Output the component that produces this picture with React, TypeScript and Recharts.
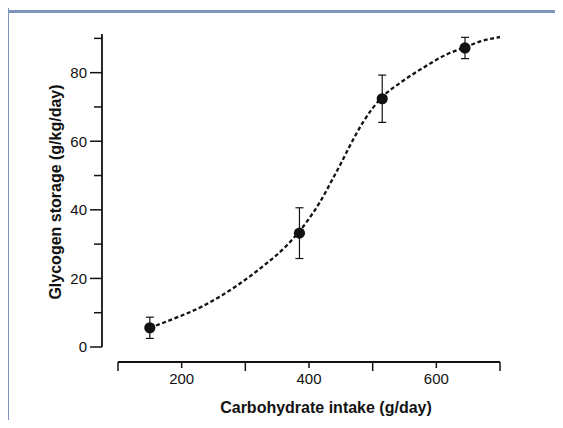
import React from 'react';
import { ComposedChart, Line, Scatter, ErrorBar, XAxis, YAxis, Label } from 'recharts';

// measured points (mean +/- SD)
const intake = [150, 385, 515, 645];
const storage = [5.6, 33.2, 72.4, 87.2];
const storageSd = [3.1, 7.4, 6.9, 3.1];

// dashed fitted curve
const fitIntake = [150, 180, 234, 286, 328, 365, 396, 417, 436, 450, 464, 485, 514, 543, 580, 616, 645, 669, 700];
const fitStorage = [5.6, 7.7, 12.0, 17.8, 23.6, 29.6, 36.4, 42.2, 48.6, 53.5, 58.6, 65.6, 72.7, 77.0, 81.5, 85.3, 87.4, 89.1, 90.4];

const xTicks = [100, 200, 300, 400, 500, 600, 700];
const xTickLabels = [200, 400, 600];
const yTicks = [0, 10, 20, 30, 40, 50, 60, 70, 80, 90];
const yTickLabels = [0, 20, 40, 60, 80];

const points = intake.map((x, i) => ({ x, y: storage[i], sd: storageSd[i] }));
const fit = fitIntake.map((x, i) => ({ x, y: fitStorage[i] }));

const FONT = '"Liberation Sans", Arial, Helvetica, sans-serif';
const INK = '#121212';
const FRAME = '#7c95b8';

const YTick = (props: any) => {
  const { x, y, payload } = props;
  const v = payload.value;
  const axisX = x + 15;
  const major = yTickLabels.includes(v);
  return (
    <g>
      <line x1={axisX} x2={axisX - (major ? 12 : 8)} y1={y} y2={y} stroke={INK} strokeWidth={1.5} />
      {major && (
        <text x={x} y={y} dy="0.36em" textAnchor="end" fontSize={15} fontFamily={FONT} fill={INK}>
          {v}
        </text>
      )}
    </g>
  );
};

const XTick = (props: any) => {
  const { x, y, payload } = props;
  const v = payload.value;
  const axisY = y - 11;
  const major = xTickLabels.includes(v);
  return (
    <g>
      <line x1={x} x2={x} y1={axisY} y2={axisY + (major ? 6 : 9)} stroke={INK} strokeWidth={1.5} />
      {major && (
        <text x={x} y={y} dy="0.72em" textAnchor="middle" fontSize={15} fontFamily={FONT} fill={INK}>
          {v}
        </text>
      )}
    </g>
  );
};

const Dot = (p: any) => <circle cx={p.cx} cy={p.cy} r={5.6} fill={INK} />;

export default function App() {
  return (
    <div style={{ position: 'relative', width: 563, height: 428, margin: -8, background: '#fff', overflow: 'hidden' }}>
      {/* header text, mostly cut off by the top edge as in the source */}
      <div
        style={{
          position: 'absolute', left: 27, top: -14, fontSize: 21, lineHeight: '21px',
          fontWeight: 700, fontFamily: FONT, color: '#555', whiteSpace: 'nowrap',
        }}
      >
        Carbohydrate intake
      </div>
      <div style={{ position: 'absolute', left: 8, top: 9.5, width: 555, height: 3, background: FRAME }} />
      <div style={{ position: 'absolute', left: 6.5, top: 0, width: 2.5, height: 428, background: FRAME }} />

      <div style={{ position: 'absolute', left: 0, top: 0 }}>
        <ComposedChart width={563} height={428} margin={{ top: 34, right: 63, bottom: 0, left: 0 }}>
          <XAxis
            dataKey="x"
            type="number"
            domain={[100, 700]}
            ticks={xTicks}
            padding={{ left: 16, right: 0 }}
            height={66}
            tickSize={8}
            tickMargin={3}
            tickLine={false}
            tick={<XTick />}
            axisLine={{ stroke: INK, strokeWidth: 1.8, strokeDasharray: '0 16 382' }}
            interval={0}
          >
            <Label
              content={(lp: any) => {
                const vb = lp.viewBox || { x: 102, y: 362, width: 398 };
                return (
                  <text
                    x={vb.x + vb.width / 2 + 25}
                    y={vb.y + 45}
                    textAnchor="middle"
                    dominantBaseline="central"
                    fontSize={16}
                    fontWeight={700}
                    fontFamily={FONT}
                    fill={INK}
                  >
                    Carbohydrate intake (g/day)
                  </text>
                );
              }}
            />
          </XAxis>
          <YAxis
            dataKey="y"
            type="number"
            domain={[0, 90]}
            ticks={yTicks}
            padding={{ top: 3, bottom: 15 }}
            width={102}
            tickSize={12}
            tickMargin={3}
            tickLine={false}
            tick={<YTick />}
            axisLine={{ stroke: INK, strokeWidth: 1.8, strokeDasharray: '313 40' }}
            interval={0}
          >
            <Label
              content={(lp: any) => {
                const vb = lp.viewBox || { x: 0, y: 34, width: 102, height: 328 };
                const cx = vb.x + 55;
                const cy = vb.y + vb.height / 2 - 6;
                return (
                  <text
                    x={cx}
                    y={cy}
                    transform={`rotate(-90, ${cx}, ${cy})`}
                    textAnchor="middle"
                    dominantBaseline="central"
                    fontSize={16}
                    fontWeight={700}
                    fontFamily={FONT}
                    fill={INK}
                  >
                    Glycogen storage (g/kg/day)
                  </text>
                );
              }}
            />
          </YAxis>
          <Line
            data={fit}
            dataKey="y"
            type="monotone"
            stroke={INK}
            strokeWidth={2.3}
            strokeDasharray="4 2.6"
            dot={false}
            activeDot={false}
            isAnimationActive={false}
          />
          <Scatter data={points} dataKey="y" shape={<Dot />} isAnimationActive={false}>
            <ErrorBar dataKey="sd" direction="y" width={4} stroke={INK} strokeWidth={1.2} isAnimationActive={false} />
          </Scatter>
        </ComposedChart>
      </div>
    </div>
  );
}
